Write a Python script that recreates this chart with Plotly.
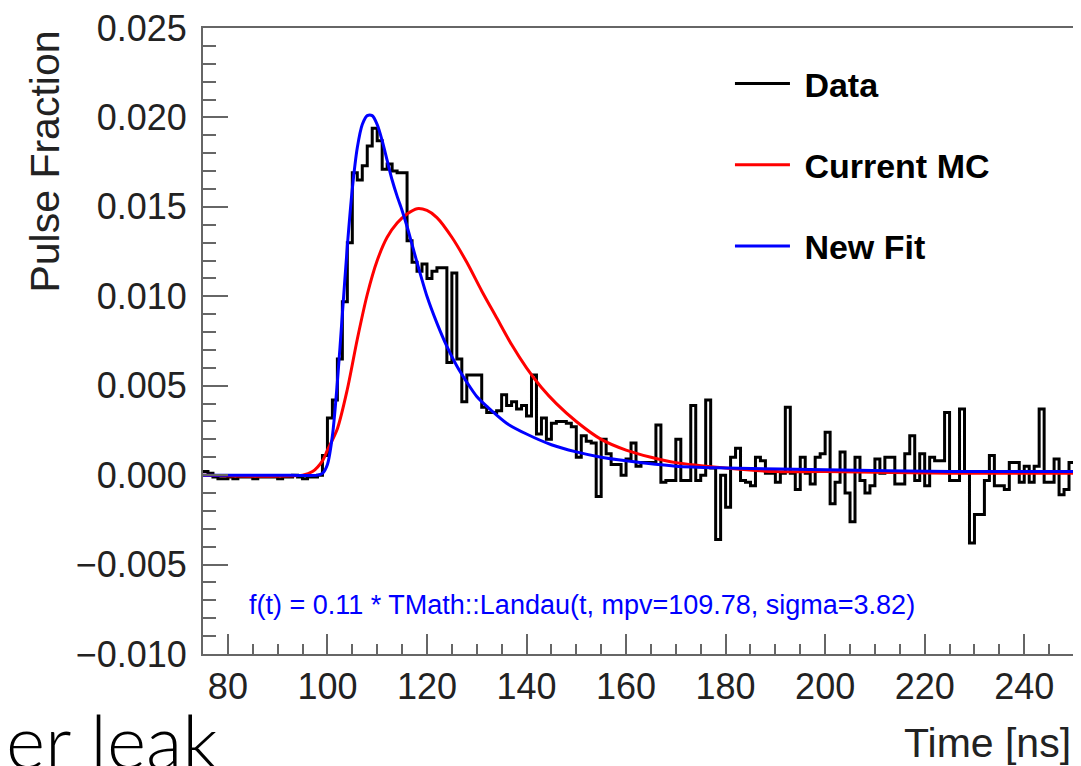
import plotly.graph_objects as go

# ---------------- data ----------------
# Data histogram: 1-ns bins, lower edges 75 ... 249
bin_low = list(range(75, 250))
data_frac = [
    0.0002, 0.0001, -0.0001, -0.0002, -0.0002, -0.0001, -0.0002, -0.0001, -0.0001, -0.0001,
    -0.0002, -0.0001, -0.0001, -0.0001, -0.0001, -0.0002, -0.0001, -0.0001, 0.0000, -0.0001,
    -0.0002, -0.0001, -0.0001, 0.0000, 0.0011, 0.0032, 0.0042, 0.0065, 0.0097, 0.0130,
    0.0169, 0.0165, 0.0173, 0.0184, 0.0194, 0.0187, 0.0171, 0.0174, 0.0170, 0.0169,
    0.0169, 0.0131, 0.0119, 0.0114, 0.0118, 0.0110, 0.0114, 0.0116, 0.0116, 0.0063,
    0.0113, 0.0065, 0.0041, 0.0056, 0.0056, 0.0056, 0.0038, 0.0035, 0.0035, 0.0036,
    0.0045, 0.0039, 0.0041, 0.0037, 0.0039, 0.0033, 0.0056, 0.0023, 0.0032, 0.0020,
    0.0029, 0.0030, 0.0030, 0.0029, 0.0027, 0.0010, 0.0022, 0.0019, 0.0018, -0.0012,
    0.0020, 0.0012, 0.0006, 0.0006, 0.0000, 0.0009, 0.0018, 0.0005, 0.0007, 0.0007,
    0.0007, 0.0028, -0.0004, -0.0003, -0.0003, 0.0020, -0.0003, -0.0003, 0.0039, -0.0003,
    0.0000, 0.0042, 0.0004, -0.0036, 0.0000, -0.0018, 0.0010, 0.0015, -0.0003, -0.0004,
    -0.0006, 0.0010, 0.0008, 0.0001, 0.0001, -0.0004, 0.0001, 0.0038, 0.0001, -0.0008,
    0.0010, 0.0001, -0.0005, 0.0010, 0.0012, 0.0024, -0.0016, -0.0004, 0.0013, -0.0010,
    -0.0026, 0.0010, -0.0003, -0.0010, -0.0006, 0.0009, 0.0001, 0.0010, 0.0010, -0.0005,
    -0.0005, 0.0012, 0.0022, -0.0003, 0.0012, -0.0006, 0.0010, 0.0008, 0.0008, 0.0035,
    -0.0003, -0.0003, 0.0037, 0.0002, -0.0038, -0.0022, -0.0022, -0.0003, 0.0011, -0.0006,
    -0.0006, -0.0008, 0.0007, 0.0007, -0.0004, 0.0005, -0.0004, 0.0005, 0.0037, -0.0004,
    -0.0004, 0.0009, -0.0011, -0.0008, 0.0007,
]

# Current MC curve (red)
mc_t = [75, 95, 97, 99, 100, 102, 104, 106, 108, 110, 112, 114, 116, 118, 120, 122,
        125, 128, 131, 134, 137, 140, 143, 146, 150, 155, 160, 165, 170, 180, 190,
        200, 225, 250]
mc_frac = [0.0000, 0.0000, 0.0002, 0.0008, 0.0014, 0.0026, 0.0048, 0.0076, 0.0101,
           0.0120, 0.0133, 0.0141, 0.0146, 0.0149, 0.0148, 0.0144, 0.0133, 0.0119,
           0.0103, 0.0088, 0.0073, 0.0060, 0.0049, 0.0040, 0.0030, 0.0020, 0.0014,
           0.0010, 0.0007, 0.0004, 0.0002, 0.0002, 0.0001, 0.0001]

# New Landau fit (blue)
fit_t = [75, 90, 98, 99, 100, 101, 102, 103, 104, 105, 106, 107, 108, 109, 110, 111,
         112, 113, 114, 115, 116, 117, 118, 120, 122, 124, 126, 128, 130, 133, 136,
         140, 145, 150, 155, 160, 170, 180, 200, 225, 250]
fit_frac = [0.0000, 0.0000, 0.0000, 0.0001, 0.0006, 0.0022, 0.0052, 0.0090, 0.0128,
            0.0160, 0.0183, 0.0196, 0.0201, 0.0201, 0.0196, 0.0187, 0.0176, 0.0165,
            0.0156, 0.0148, 0.0139, 0.0129, 0.0119, 0.0100, 0.0085, 0.0072, 0.0061,
            0.0052, 0.0044, 0.0036, 0.0029, 0.0023, 0.0017, 0.0013, 0.0010, 0.0008,
            0.0005, 0.0004, 0.0003, 0.0002, 0.0002]

x_tickvals = [80, 100, 120, 140, 160, 180, 200, 220, 240]
y_tickvals = [-0.010, -0.005, 0.000, 0.005, 0.010, 0.015, 0.020, 0.025]

legend_names = ["\u00a0Data", "\u00a0Current MC", "\u00a0New Fit"]
fit_label = "f(t) = 0.11 * TMath::Landau(t, mpv=109.78, sigma=3.82)"

# ---------------- figure ----------------
hist_x = bin_low + [bin_low[-1] + 1]
hist_y = data_frac + [data_frac[-1]]

FONT = "Liberation Sans, Arial, Helvetica, sans-serif"
AX = "#666666"

fig = go.Figure()
fig.add_trace(go.Scatter(x=hist_x, y=hist_y, mode="lines", name=legend_names[0],
                         line=dict(color="black", width=3, shape="hv"),
                         legendgroup="a"))
fig.add_trace(go.Scatter(x=mc_t, y=mc_frac, mode="lines", name=legend_names[1],
                         line=dict(color="#ff0000", width=3, shape="spline", smoothing=0.8),
                         legendgroup="b"))
fig.add_trace(go.Scatter(x=fit_t, y=fit_frac, mode="lines", name=legend_names[2],
                         line=dict(color="#0000ff", width=3, shape="spline", smoothing=0.8),
                         legendgroup="c"))

# the page body adds an 8px offset, so the figure is 8px smaller and margins shifted
fig.update_layout(
    width=1073, height=758,
    margin=dict(l=195, r=7, t=20, b=112, autoexpand=False),
    paper_bgcolor="white", plot_bgcolor="white",
    font=dict(family=FONT, color="black"),
    showlegend=True,
    legend=dict(x=0.605, y=0.957, xanchor="left", yanchor="top",
                bgcolor="rgba(0,0,0,0)", borderwidth=0,
                font=dict(family=FONT, size=34, color="black", weight="bold"),
                tracegroupgap=34, itemwidth=55, traceorder="grouped"),
)

fig.update_xaxes(
    range=[75, 250], showgrid=False, zeroline=False, automargin=False,
    showline=True, linecolor=AX, linewidth=2, mirror=True,
    ticks="inside", ticklen=20, tickwidth=1.5, tickcolor=AX,
    tickvals=x_tickvals, tickfont=dict(family=FONT, size=36, color="#222"),
    ticklabeloverflow="allow",
    minor=dict(ticks="inside", ticklen=10, tickwidth=1.5, tickcolor=AX, dtick=5, tick0=75),
)
fig.update_yaxes(
    range=[-0.010, 0.025], showgrid=False, zeroline=False, automargin=False,
    showline=True, linecolor=AX, linewidth=2, mirror=True,
    ticks="inside", ticklen=25, tickwidth=1.5, tickcolor=AX,
    tickvals=y_tickvals, tickformat=".3f",
    tickfont=dict(family=FONT, size=36, color="#222"),
    ticklabelstandoff=7, ticklabeloverflow="allow",
    minor=dict(ticks="inside", ticklen=13, tickwidth=1.5, tickcolor=AX, dtick=0.001, tick0=0),
)

fig.add_annotation(x=83.8, y=-0.00726, xref="x", yref="y", text=fit_label,
                   showarrow=False, xanchor="left", yanchor="middle",
                   font=dict(family=FONT, size=27, color="#0000ff"))
fig.add_annotation(x=-0.1814, y=0.7867, xref="paper", yref="paper", text="Pulse Fraction",
                   textangle=-90, showarrow=False, xanchor="center", yanchor="middle",
                   font=dict(family=FONT, size=41, color="#222"))
fig.add_annotation(x=0.9989, y=-0.1422, xref="paper", yref="paper", text="Time [ns]",
                   showarrow=False, xanchor="right", yanchor="middle",
                   font=dict(family=FONT, size=41, color="#222"))
fig.add_annotation(x=-0.228, y=-0.062, xref="paper", yref="paper", text="er leak",
                   showarrow=False, xanchor="left", yanchor="top",
                   font=dict(family="Lato, Open Sans, sans-serif", size=75, color="black", weight=300))

fig.write_html("out.html")
